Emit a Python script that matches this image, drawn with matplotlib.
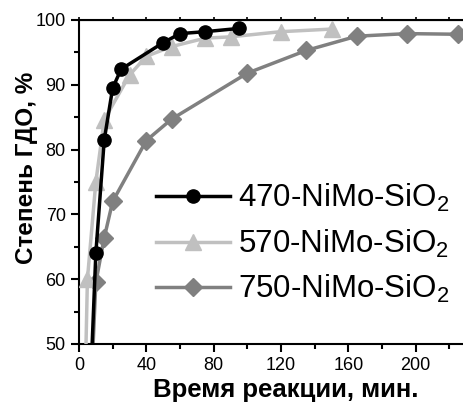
import matplotlib
matplotlib.use("Agg")
import matplotlib.pyplot as plt
from matplotlib.ticker import MultipleLocator, NullFormatter

plt.rcParams['font.family'] = ['Liberation Sans', 'DejaVu Sans']
plt.rcParams['mathtext.fontset'] = 'custom'
plt.rcParams['mathtext.rm'] = 'Liberation Sans'
plt.rcParams['mathtext.default'] = 'regular'

# время, мин и степень ГДО, %
t470 = [0, 10, 15, 20, 25, 50, 60, 75, 95]
y470 = [0, 64.0, 81.5, 89.5, 92.4, 96.5, 97.9, 98.2, 98.7]

t570 = [0, 5, 10, 15, 30, 40, 55, 75, 90, 120, 150]
y570 = [0, 60.0, 75.0, 84.6, 91.5, 94.4, 95.9, 97.2, 97.4, 98.2, 98.6]

t750 = [0, 10, 15, 20, 40, 55, 100, 135, 165, 195, 225]
y750 = [0, 59.5, 66.4, 72.0, 81.4, 84.7, 91.8, 95.3, 97.5, 97.9, 97.8]

labels = ['470-NiMo-SiO$_2$', '570-NiMo-SiO$_2$', '750-NiMo-SiO$_2$']
xticks = [0, 40, 80, 120, 160, 200]

W, H = 463, 403
fig = plt.figure(figsize=(W/100, H/100), dpi=100)
# ось шире картинки: правый край обрезан, как в оригинале
ax_w = 483 - 79
ax = fig.add_axes([79/W, (H-344)/H, ax_w/W, 324/H])

ax.plot(t470, y470, '-o', color='black', lw=2.5, ms=9.5, label=labels[0], zorder=4)
ax.plot(t570, y570, '-^', color='#c0c0c0', lw=2.5, ms=11, label=labels[1], zorder=3)
ax.plot(t750, y750, '-D', color='#808080', lw=2.5, ms=9, label=labels[2], zorder=2)

ax.set_xlim(0, 240)
ax.set_ylim(50, 100)
ax.set_xticks(xticks)
ax.xaxis.set_minor_locator(MultipleLocator(20))
ax.yaxis.set_major_locator(MultipleLocator(10))
ax.yaxis.set_minor_locator(MultipleLocator(5))
ax.tick_params(which='major', direction='out', length=6, width=1.5, labelsize=13)
ax.tick_params(which='minor', direction='out', length=3.5, width=1.5)
for s in ax.spines.values():
    s.set_linewidth(1.5)

top = ax.secondary_xaxis('top')
top.xaxis.set_major_locator(MultipleLocator(20))
top.xaxis.set_major_formatter(NullFormatter())
top.tick_params(direction='out', length=2.5, width=1.2)

ax.set_xlabel('Время реакции, мин.', fontsize=18.5, fontweight='bold')
ax.xaxis.set_label_coords((285.5-79)/ax_w, -0.105)
ax.set_ylabel('Степень ГДО, %', fontsize=17.5, fontweight='bold')
ax.yaxis.set_label_coords((38-79)/ax_w, (344-167.5)/324)

leg = ax.legend(loc='upper left', bbox_to_anchor=(156/W, 1 - 182/H), bbox_transform=fig.transFigure,
                frameon=False, fontsize=22.5, handlelength=2.37, handletextpad=0.26,
                labelspacing=0.435, borderpad=0, borderaxespad=0)

fig.savefig('out.png', dpi=100)
